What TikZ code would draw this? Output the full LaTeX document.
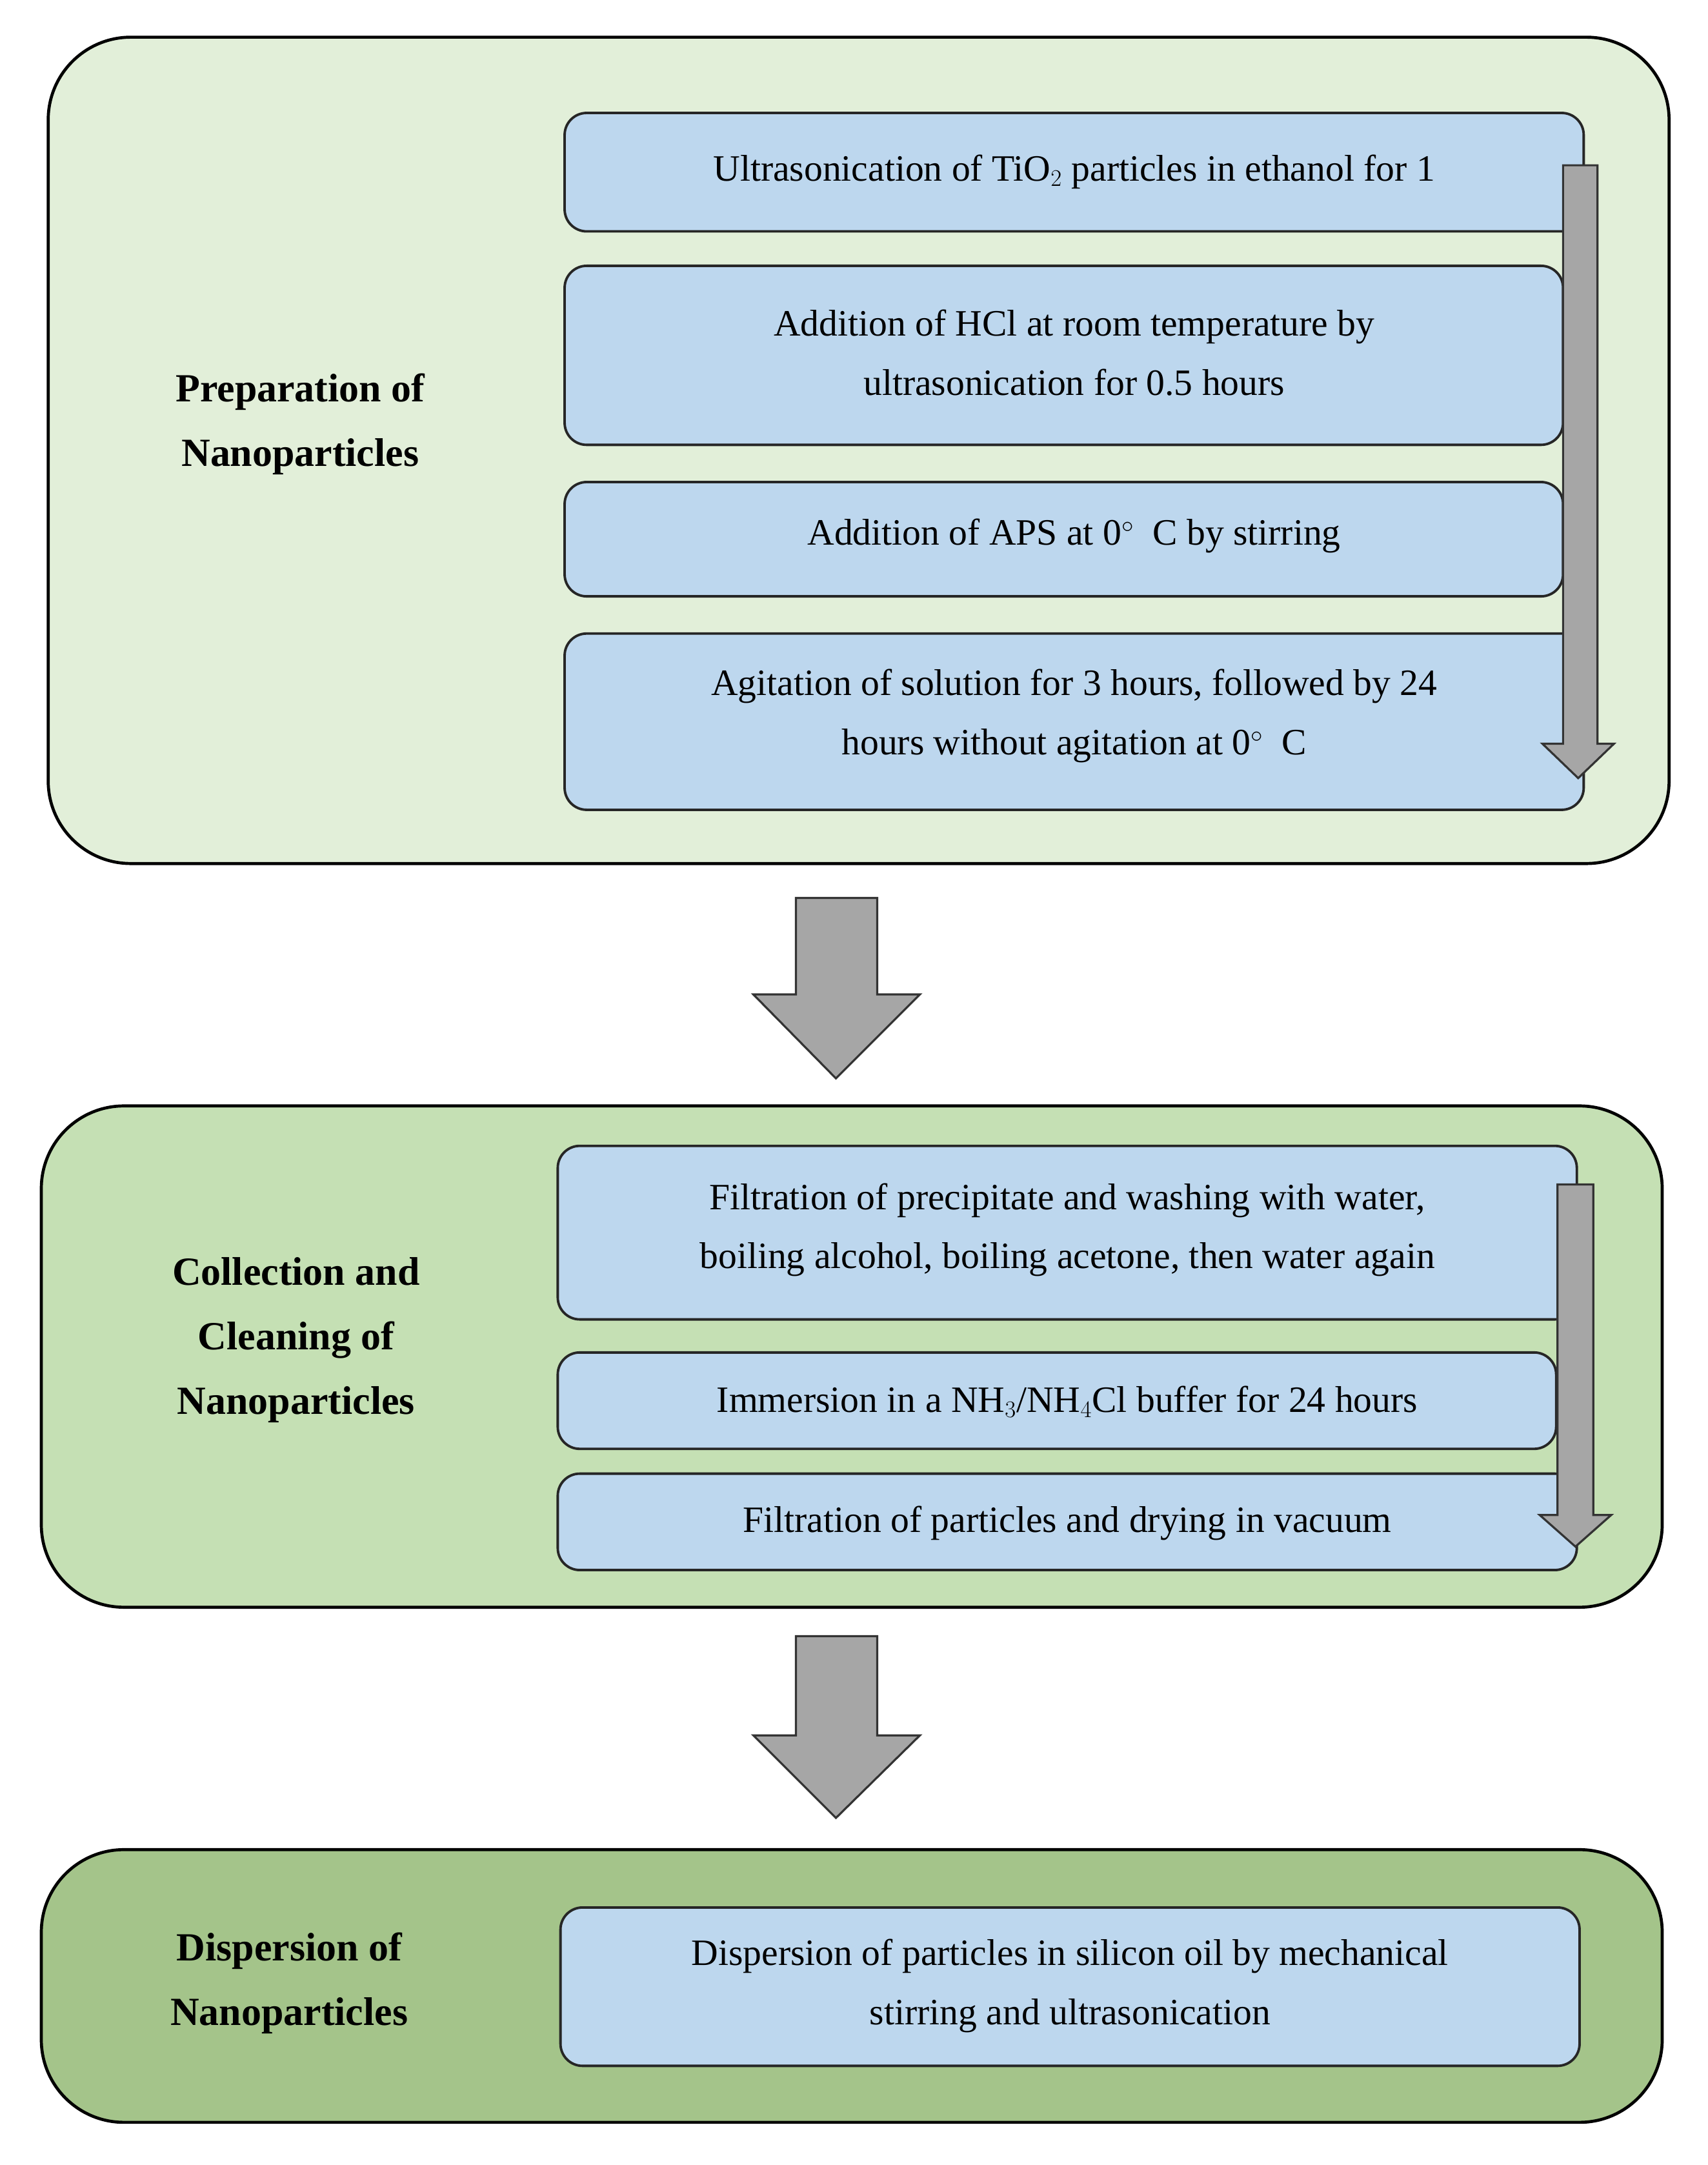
\documentclass[tikz,border=0pt]{standalone}
\usepackage{fontspec}
\setmainfont{Liberation Serif}
\usetikzlibrary{shapes.arrows}
\definecolor{g1}{HTML}{E2EFD9}
\definecolor{g2}{HTML}{C5E0B4}
\definecolor{g3}{HTML}{A4C48A}
\definecolor{bl}{HTML}{BDD7EE}
\definecolor{ar}{HTML}{A6A6A6}
\begin{document}
\begin{tikzpicture}[x=1pt,y=-1pt,
  outer/.style={draw=black,line width=2.2pt,rounded corners=60pt},
  inner/.style={draw=black!85,line width=1.8pt,rounded corners=16pt,fill=bl},
  txt/.style={font=\fontsize{27}{43}\selectfont,align=center},
  lbl/.style={font=\fontsize{29}{47}\selectfont\bfseries,align=center},
  garrow/.style={draw=black!80,line width=1.5pt,fill=ar}]
\useasboundingbox (0,0) rectangle (1240,1572);
\fill[white] (0,0) rectangle (1240,1572);
% outer boxes
\draw[outer,fill=g1] (35,27) rectangle (1212,627);
\draw[outer,fill=g2] (30,803) rectangle (1207,1167);
\draw[outer,fill=g3] (30,1343) rectangle (1207,1541);
% labels
\node[lbl] (L1) at (218,308) {Preparation of\\Nanoparticles};
\node[lbl] (L2) at (215,973) {Collection and\\Cleaning of\\Nanoparticles};
\node[lbl] (L3) at (210,1440) {Dispersion of\\Nanoparticles};
% inner boxes
\draw[inner] (410,82) rectangle (1150,168);
\node[txt] (a1) at (780,125) {Ultrasonication of TiO$_2$ particles in ethanol for 1};
\draw[inner] (410,193) rectangle (1135,323);
\node[txt] (a2) at (780,256) {Addition of HCl at room temperature by\\ultrasonication for 0.5 hours};
\draw[inner] (410,350) rectangle (1135,433);
\node[txt] (a3) at (780,389) {Addition of APS at 0\textsuperscript{$\circ$}\ \ C by stirring};
\draw[inner] (410,460) rectangle (1150,588);
\node[txt] (a4) at (780,520) {Agitation of solution for 3 hours, followed by 24\\hours without agitation at 0\textsuperscript{$\circ$}\ \ C};
\draw[inner] (405,832) rectangle (1145,958);
\node[txt] (b1) at (775,893) {Filtration of precipitate and washing with water,\\boiling alcohol, boiling acetone, then water again};
\draw[inner] (405,982) rectangle (1130,1052);
\node[txt] (b2) at (775,1018) {Immersion in a NH$_3$/NH$_4$Cl buffer for 24 hours};
\draw[inner] (405,1070) rectangle (1145,1140);
\node[txt] (b3) at (775,1106) {Filtration of particles and drying in vacuum};
\draw[inner] (407,1385) rectangle (1147,1500);
\node[txt] (c1) at (777,1442) {Dispersion of particles in silicon oil by mechanical\\stirring and ultrasonication};
% vertical arrows
\draw[garrow] (1135,120) -- (1160,120) -- (1160,540) -- (1172,540) -- (1146,565) -- (1120,540) -- (1135,540) -- cycle;
\draw[garrow] (1131,860) -- (1157,860) -- (1157,1100) -- (1170,1100) -- (1144,1123) -- (1118,1100) -- (1131,1100) -- cycle;
% big arrows
\draw[garrow] (578,652) -- (637,652) -- (637,722) -- (668,722) -- (607,783) -- (547,722) -- (578,722) -- cycle;
\draw[garrow] (578,1188) -- (637,1188) -- (637,1260) -- (668,1260) -- (607,1320) -- (547,1260) -- (578,1260) -- cycle;
\end{tikzpicture}
\end{document}
